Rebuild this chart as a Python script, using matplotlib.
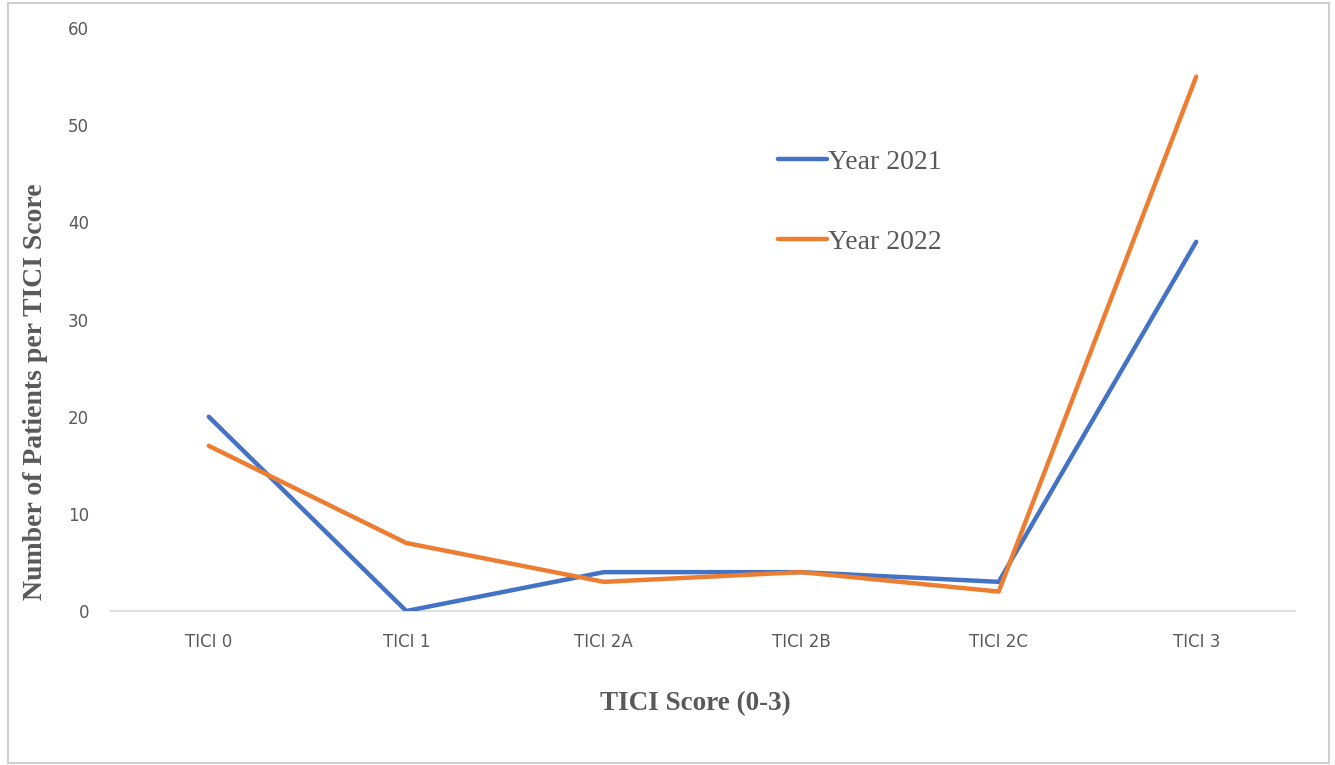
import numpy as np
import matplotlib.pyplot as plt
from matplotlib.patches import Rectangle

# TICI score categories and patient counts per year
categories = ['TICI 0', 'TICI 1', 'TICI 2A', 'TICI 2B', 'TICI 2C', 'TICI 3']
year_2021 = [20, 0, 4, 4, 3, 38]
year_2022 = [17, 7, 3, 4, 2, 55]

blue = '#4472C4'
orange = '#ED7D31'
grey = '#595959'

fig = plt.figure(figsize=(13.35, 7.65), dpi=100)
ax = fig.add_axes([0.0824, 0.2013, 0.8876, 0.762])

x = np.arange(len(categories))
ax.plot(x, year_2021, color=blue, lw=3.2, label='Year 2021', solid_capstyle='round')
ax.plot(x, year_2022, color=orange, lw=3.2, label='Year 2022', solid_capstyle='round')

ax.set_xlim(-0.5, len(categories) - 0.5)
ax.set_ylim(0, 60)
ax.set_yticks(np.arange(0, 61, 10))
ax.set_xticks(x)
ax.set_xticklabels(categories)
ax.tick_params(length=0, labelsize=12, labelcolor=grey)
ax.tick_params(axis='y', pad=15)
ax.tick_params(axis='x', pad=16)

for s in ['top', 'right', 'left']:
    ax.spines[s].set_visible(False)
ax.spines['bottom'].set_color('#D9D9D9')
ax.spines['bottom'].set_linewidth(1.2)
ax.spines['bottom'].set_zorder(0)

ax.set_xlabel('TICI Score (0-3)', family='Liberation Serif', fontweight='bold',
              fontsize=19.5, color=grey)
ax.set_ylabel('Number of Patients per TICI Score', family='Liberation Serif',
              fontweight='bold', fontsize=20, color=grey)
ax.xaxis.set_label_coords(0.4937, -0.137)
ax.yaxis.set_label_coords(-0.0523, 0.3756)

leg = ax.legend(loc='upper left', bbox_to_anchor=(0.564, 0.837), bbox_transform=fig.transFigure,
                frameon=False, handlelength=1.75, handletextpad=0.05, labelspacing=1.95,
                prop={'family': 'Liberation Serif', 'size': 20})
for t in leg.get_texts():
    t.set_color(grey)

# light frame around the whole chart
fig.patches.append(Rectangle((8 / 1335, 2 / 765), 1321 / 1335, 760 / 765,
                             transform=fig.transFigure, fill=False,
                             edgecolor='#CFCFCF', lw=1.5))

fig.savefig('out.png', dpi=100)
